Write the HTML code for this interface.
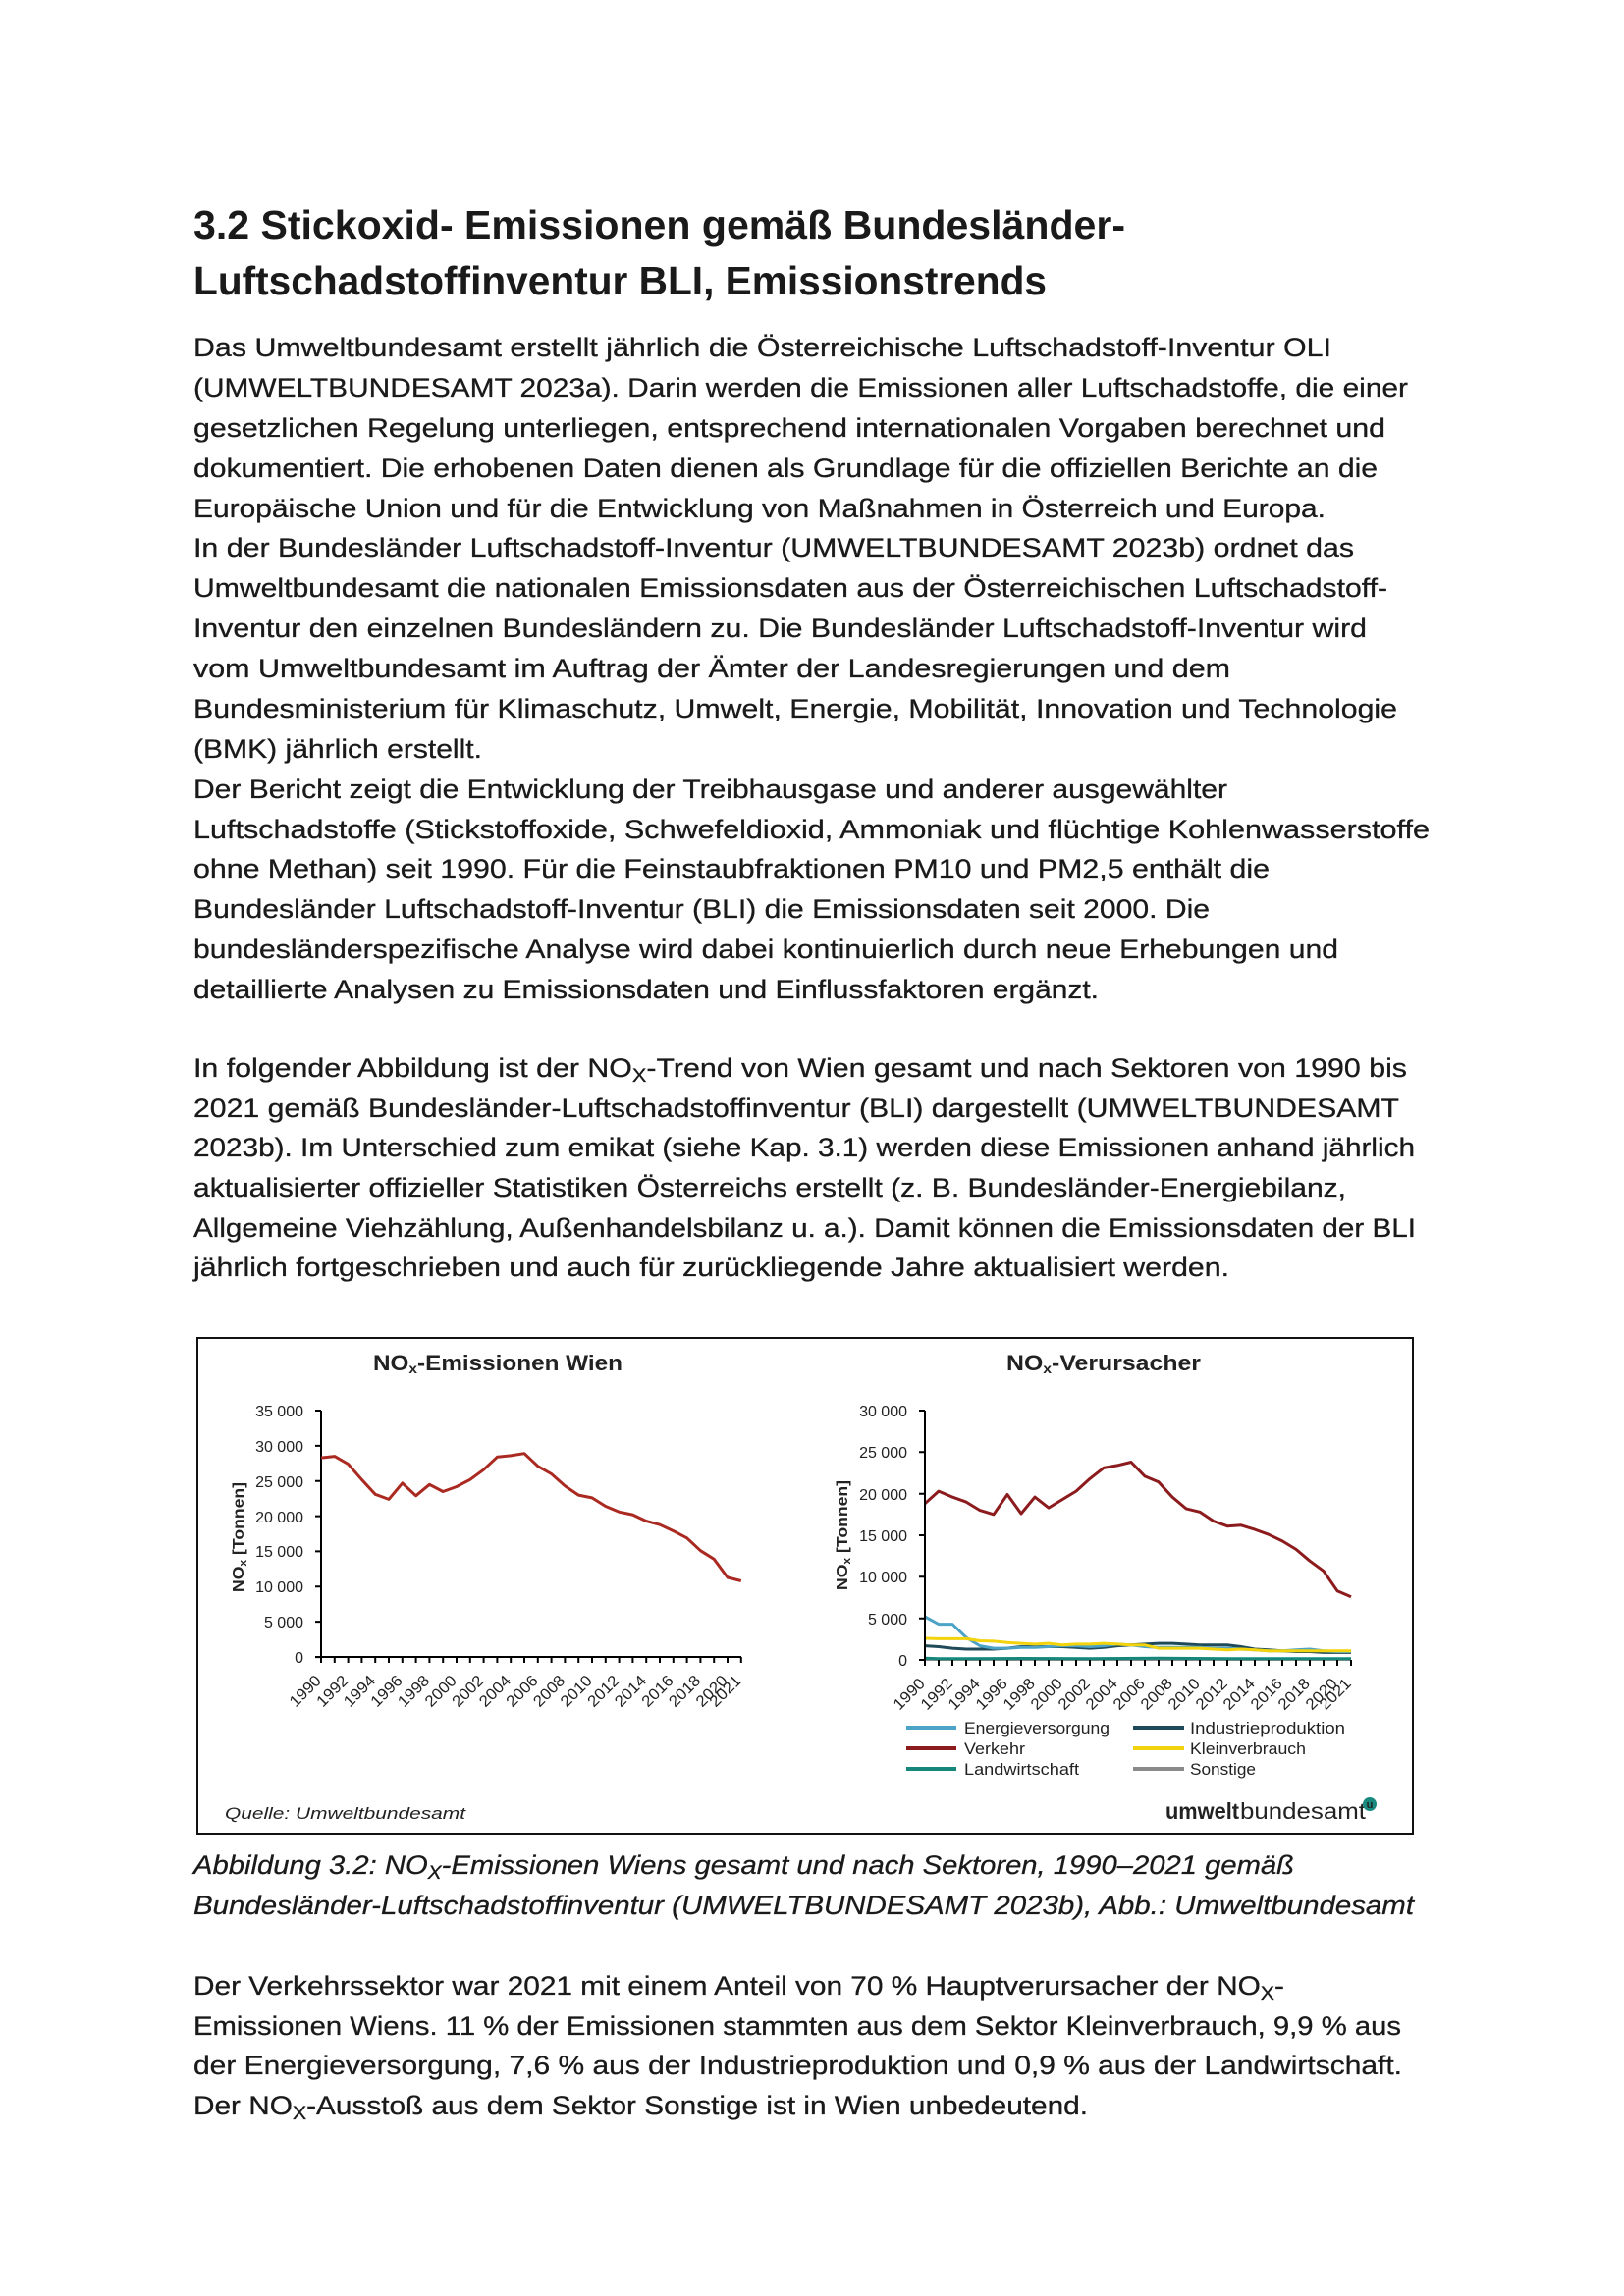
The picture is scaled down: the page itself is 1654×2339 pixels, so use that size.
<!DOCTYPE html>
<html>
<head>
<meta charset="utf-8">
<style>
html,body{margin:0;padding:0;background:#fff;}
svg{display:block;}
.b{font-family:"Liberation Sans",sans-serif;font-size:26.5px;fill:#1a1a1a;stroke:#1a1a1a;stroke-width:0.3px;}
.i{font-family:"Liberation Sans",sans-serif;font-size:26.5px;font-style:italic;fill:#1a1a1a;stroke:#1a1a1a;stroke-width:0.3px;}
.h{font-family:"Liberation Sans",sans-serif;font-size:41px;font-weight:bold;fill:#1a1a1a;}
.c{font-family:"Liberation Sans",sans-serif;fill:#222;}
</style>
</head>
<body>
<svg width="1654" height="2339" viewBox="0 0 1654 2339" xmlns="http://www.w3.org/2000/svg">
<rect width="1654" height="2339" fill="#fff"/>

<!-- Heading -->
<text class="h" x="197" y="243" textLength="949" lengthAdjust="spacingAndGlyphs">3.2 Stickoxid- Emissionen gemäß Bundesländer-</text>
<text class="h" x="197" y="300" textLength="869" lengthAdjust="spacingAndGlyphs">Luftschadstoffinventur BLI, Emissionstrends</text>

<!-- Paragraph 1 -->
<text class="b" x="197" y="363" textLength="1159" lengthAdjust="spacingAndGlyphs">Das Umweltbundesamt erstellt jährlich die Österreichische Luftschadstoff-Inventur OLI</text>
<text class="b" x="197" y="404" textLength="1237" lengthAdjust="spacingAndGlyphs">(UMWELTBUNDESAMT 2023a). Darin werden die Emissionen aller Luftschadstoffe, die einer</text>
<text class="b" x="197" y="445" textLength="1214" lengthAdjust="spacingAndGlyphs">gesetzlichen Regelung unterliegen, entsprechend internationalen Vorgaben berechnet und</text>
<text class="b" x="197" y="486" textLength="1206" lengthAdjust="spacingAndGlyphs">dokumentiert. Die erhobenen Daten dienen als Grundlage für die offiziellen Berichte an die</text>
<text class="b" x="197" y="527" textLength="1153" lengthAdjust="spacingAndGlyphs">Europäische Union und für die Entwicklung von Maßnahmen in Österreich und Europa.</text>
<text class="b" x="197" y="567" textLength="1182" lengthAdjust="spacingAndGlyphs">In der Bundesländer Luftschadstoff-Inventur (UMWELTBUNDESAMT 2023b) ordnet das</text>
<text class="b" x="197" y="608" textLength="1216" lengthAdjust="spacingAndGlyphs">Umweltbundesamt die nationalen Emissionsdaten aus der Österreichischen Luftschadstoff-</text>
<text class="b" x="197" y="649" textLength="1195" lengthAdjust="spacingAndGlyphs">Inventur den einzelnen Bundesländern zu. Die Bundesländer Luftschadstoff-Inventur wird</text>
<text class="b" x="197" y="690" textLength="1056" lengthAdjust="spacingAndGlyphs">vom Umweltbundesamt im Auftrag der Ämter der Landesregierungen und dem</text>
<text class="b" x="197" y="731" textLength="1226" lengthAdjust="spacingAndGlyphs">Bundesministerium für Klimaschutz, Umwelt, Energie, Mobilität, Innovation und Technologie</text>
<text class="b" x="197" y="772" textLength="294" lengthAdjust="spacingAndGlyphs">(BMK) jährlich erstellt.</text>
<text class="b" x="197" y="813" textLength="1053" lengthAdjust="spacingAndGlyphs">Der Bericht zeigt die Entwicklung der Treibhausgase und anderer ausgewählter</text>
<text class="b" x="197" y="854" textLength="1259" lengthAdjust="spacingAndGlyphs">Luftschadstoffe (Stickstoffoxide, Schwefeldioxid, Ammoniak und flüchtige Kohlenwasserstoffe</text>
<text class="b" x="197" y="894" textLength="1096" lengthAdjust="spacingAndGlyphs">ohne Methan) seit 1990. Für die Feinstaubfraktionen PM10 und PM2,5 enthält die</text>
<text class="b" x="197" y="935" textLength="1035" lengthAdjust="spacingAndGlyphs">Bundesländer Luftschadstoff-Inventur (BLI) die Emissionsdaten seit 2000. Die</text>
<text class="b" x="197" y="976" textLength="1166" lengthAdjust="spacingAndGlyphs">bundesländerspezifische Analyse wird dabei kontinuierlich durch neue Erhebungen und</text>
<text class="b" x="197" y="1017" textLength="922" lengthAdjust="spacingAndGlyphs">detaillierte Analysen zu Emissionsdaten und Einflussfaktoren ergänzt.</text>

<!-- Paragraph 2 -->
<text class="b" x="197" y="1097" textLength="1236" lengthAdjust="spacingAndGlyphs">In folgender Abbildung ist der NO<tspan font-size="19" dy="5">X</tspan><tspan dy="-5">-Trend von Wien gesamt und nach Sektoren von 1990 bis</tspan></text>
<text class="b" x="197" y="1138" textLength="1228" lengthAdjust="spacingAndGlyphs">2021 gemäß Bundesländer-Luftschadstoffinventur (BLI) dargestellt (UMWELTBUNDESAMT</text>
<text class="b" x="197" y="1178" textLength="1244" lengthAdjust="spacingAndGlyphs">2023b). Im Unterschied zum emikat (siehe Kap. 3.1) werden diese Emissionen anhand jährlich</text>
<text class="b" x="197" y="1219" textLength="1174" lengthAdjust="spacingAndGlyphs">aktualisierter offizieller Statistiken Österreichs erstellt (z. B. Bundesländer-Energiebilanz,</text>
<text class="b" x="197" y="1260" textLength="1245" lengthAdjust="spacingAndGlyphs">Allgemeine Viehzählung, Außenhandelsbilanz u. a.). Damit können die Emissionsdaten der BLI</text>
<text class="b" x="197" y="1300" textLength="1055" lengthAdjust="spacingAndGlyphs">jährlich fortgeschrieben und auch für zurückliegende Jahre aktualisiert werden.</text>

<!-- Chart frame -->
<rect x="201" y="1363" width="1238" height="505" fill="#fff" stroke="#111" stroke-width="2"/>

<!-- LEFT CHART -->
<text class="c" x="380" y="1396" font-size="22" font-weight="bold" fill="#111" textLength="254" lengthAdjust="spacingAndGlyphs">NO<tspan font-size="14" dy="3">x</tspan><tspan dy="-3">-Emissionen Wien</tspan></text>
<g class="c" font-size="16" text-anchor="end">
<text x="309" y="1694">0</text>
<text x="309" y="1658">5 000</text>
<text x="309" y="1622">10 000</text>
<text x="309" y="1586">15 000</text>
<text x="309" y="1551">20 000</text>
<text x="309" y="1515">25 000</text>
<text x="309" y="1479">30 000</text>
<text x="309" y="1443">35 000</text>
</g>
<text class="c" transform="translate(248,1566) rotate(-90)" text-anchor="middle" font-size="16" font-weight="bold" fill="#111" textLength="112" lengthAdjust="spacingAndGlyphs">NO<tspan font-size="11" dy="3">x</tspan><tspan dy="-3"> [Tonnen]</tspan></text>
<g stroke="#000" stroke-width="2" fill="none">
<line x1="327" y1="1437" x2="327" y2="1689"/>
<line x1="321" y1="1688" x2="755" y2="1688"/>
<path d="M321 1688.1H327M321 1652.1H327M321 1616.3H327M321 1580.4H327M321 1544.6H327M321 1508.7H327M321 1472.9H327M321 1437H327"/>
<path d="M327 1688v6M340.8 1688v6M354.6 1688v6M368.4 1688v6M382.2 1688v6M396 1688v6M409.8 1688v6M423.6 1688v6M437.4 1688v6M451.2 1688v6M465 1688v6M478.8 1688v6M492.6 1688v6M506.4 1688v6M520.2 1688v6M534 1688v6M547.8 1688v6M561.6 1688v6M575.4 1688v6M589.2 1688v6M603 1688v6M616.8 1688v6M630.6 1688v6M644.4 1688v6M658.2 1688v6M672 1688v6M685.8 1688v6M699.6 1688v6M713.4 1688v6M727.2 1688v6M741 1688v6M754.8 1688v6"/>
</g>
<g class="c" font-size="16" text-anchor="end">
<text transform="translate(328,1713) rotate(-45)" textLength="38" lengthAdjust="spacingAndGlyphs">1990</text>
<text transform="translate(355.6,1713) rotate(-45)" textLength="38" lengthAdjust="spacingAndGlyphs">1992</text>
<text transform="translate(383.2,1713) rotate(-45)" textLength="38" lengthAdjust="spacingAndGlyphs">1994</text>
<text transform="translate(410.8,1713) rotate(-45)" textLength="38" lengthAdjust="spacingAndGlyphs">1996</text>
<text transform="translate(438.4,1713) rotate(-45)" textLength="38" lengthAdjust="spacingAndGlyphs">1998</text>
<text transform="translate(466,1713) rotate(-45)" textLength="38" lengthAdjust="spacingAndGlyphs">2000</text>
<text transform="translate(493.6,1713) rotate(-45)" textLength="38" lengthAdjust="spacingAndGlyphs">2002</text>
<text transform="translate(521.2,1713) rotate(-45)" textLength="38" lengthAdjust="spacingAndGlyphs">2004</text>
<text transform="translate(548.8,1713) rotate(-45)" textLength="38" lengthAdjust="spacingAndGlyphs">2006</text>
<text transform="translate(576.4,1713) rotate(-45)" textLength="38" lengthAdjust="spacingAndGlyphs">2008</text>
<text transform="translate(604,1713) rotate(-45)" textLength="38" lengthAdjust="spacingAndGlyphs">2010</text>
<text transform="translate(631.6,1713) rotate(-45)" textLength="38" lengthAdjust="spacingAndGlyphs">2012</text>
<text transform="translate(659.2,1713) rotate(-45)" textLength="38" lengthAdjust="spacingAndGlyphs">2014</text>
<text transform="translate(686.8,1713) rotate(-45)" textLength="38" lengthAdjust="spacingAndGlyphs">2016</text>
<text transform="translate(714.4,1713) rotate(-45)" textLength="38" lengthAdjust="spacingAndGlyphs">2018</text>
<text transform="translate(742,1713) rotate(-45)" textLength="38" lengthAdjust="spacingAndGlyphs">2020</text>
<text transform="translate(755.8,1713) rotate(-45)" textLength="38" lengthAdjust="spacingAndGlyphs">2021</text>
</g>
<polyline fill="none" stroke="#aa2a22" stroke-width="3" stroke-linejoin="round" points="327,1485.1 340.8,1483.6 354.6,1491.5 368.4,1507.3 382.2,1522.3 396,1527.4 409.8,1510.9 423.6,1523.8 437.4,1512.3 451.2,1519.5 465,1514.5 478.8,1507.3 492.6,1497.2 506.4,1484.3 520.2,1482.9 534,1480.7 547.8,1493.7 561.6,1501.5 575.4,1513.7 589.2,1523.1 603,1525.9 616.8,1534.5 630.6,1540.3 644.4,1543.1 658.2,1549.6 672,1553.2 685.8,1559.6 699.6,1566.8 713.4,1579.7 727.2,1588.3 741,1607 754.8,1610.5"/>
<text class="c" x="229" y="1853" font-size="17" font-style="italic" fill="#222" textLength="245" lengthAdjust="spacingAndGlyphs">Quelle: Umweltbundesamt</text>

<!-- RIGHT CHART -->
<text class="c" x="1025" y="1396" font-size="22" font-weight="bold" fill="#111" textLength="198" lengthAdjust="spacingAndGlyphs">NO<tspan font-size="14" dy="3">x</tspan><tspan dy="-3">-Verursacher</tspan></text>
<g class="c" font-size="16" text-anchor="end">
<text x="924" y="1697">0</text>
<text x="924" y="1655">5 000</text>
<text x="924" y="1612">10 000</text>
<text x="924" y="1570">15 000</text>
<text x="924" y="1528">20 000</text>
<text x="924" y="1485">25 000</text>
<text x="924" y="1443">30 000</text>
</g>
<text class="c" transform="translate(863,1564) rotate(-90)" text-anchor="middle" font-size="16" font-weight="bold" fill="#111" textLength="112" lengthAdjust="spacingAndGlyphs">NO<tspan font-size="11" dy="3">x</tspan><tspan dy="-3"> [Tonnen]</tspan></text>
<g fill="none" stroke-width="3" stroke-linejoin="round">
<polyline stroke="#8a8a8a" points="942,1690.5 1376,1690.5"/>
<polyline stroke="#14877a" points="942,1689.3 956,1689.7 984,1689.7 1040,1689.5 1110,1689.7 1180,1689.3 1250,1689.7 1320,1689.7 1376,1689.7"/>
<polyline stroke="#1f4a5a" points="942,1676.6 956,1677.5 970,1679.1 984,1680 998,1680 1012,1680 1026,1679.1 1040,1677.5 1054,1677.5 1068,1677.5 1082,1677.5 1096,1678.3 1110,1679.1 1124,1678.3 1138,1676.6 1152,1675.8 1166,1674.9 1180,1674.1 1194,1674.1 1208,1674.9 1222,1675.8 1236,1675.8 1250,1675.8 1264,1677.5 1278,1680 1292,1680.8 1306,1681.7 1320,1682.5 1334,1682.5 1348,1683.4 1362,1683.4 1376,1683.4"/>
<polyline stroke="#4da3c6" points="942,1647 956,1654.6 970,1654.6 984,1668.1 998,1676.6 1012,1679.1 1026,1679.1 1040,1678.3 1054,1678.3 1068,1677.5 1082,1676.6 1096,1676.6 1110,1677.5 1124,1676.6 1138,1674.9 1152,1675.8 1166,1677.5 1180,1678.3 1194,1678.3 1208,1678.3 1222,1678.3 1236,1679.1 1250,1679.1 1264,1680 1278,1680.8 1292,1681.7 1306,1681.7 1320,1680.8 1334,1680 1348,1681.7 1362,1682.5 1376,1682.5"/>
<polyline stroke="#f2d30c" points="942,1669 956,1669.4 970,1669.4 984,1669.4 998,1671.5 1012,1671.9 1026,1673.2 1040,1674.1 1054,1674.9 1068,1674.1 1082,1675.8 1096,1674.9 1110,1674.9 1124,1674.1 1138,1674.9 1152,1675.8 1166,1675.8 1180,1679.1 1194,1679.1 1208,1679.1 1222,1679.1 1236,1680 1250,1680.8 1264,1680 1278,1680.8 1292,1681.7 1306,1681.7 1320,1681.7 1334,1681.7 1348,1681.7 1362,1681.7 1376,1681.7"/>
<polyline stroke="#8c1b1e" points="942,1531.8 956,1519.1 970,1525.1 984,1530.1 998,1538.6 1012,1542.8 1026,1522.5 1040,1542 1054,1525.1 1068,1536.1 1082,1527.6 1096,1519.1 1110,1506.4 1124,1495.4 1138,1492.9 1152,1489.5 1166,1503.9 1180,1509.8 1194,1525.1 1208,1536.9 1222,1540.3 1236,1549.6 1250,1554.7 1264,1553.8 1278,1558.1 1292,1563.2 1306,1569.9 1320,1578.4 1334,1590.2 1348,1600.4 1362,1620.7 1376,1626.7"/>
</g>
<g stroke="#000" stroke-width="2" fill="none">
<line x1="942" y1="1437" x2="942" y2="1692"/>
<path d="M936 1691H942M936 1648.7H942M936 1606.3H942M936 1564H942M936 1521.7H942M936 1479.3H942M936 1437H942"/>
<path d="M942 1691v6M956 1691v6M970 1691v6M984 1691v6M998 1691v6M1012 1691v6M1026 1691v6M1040 1691v6M1054 1691v6M1068 1691v6M1082 1691v6M1096 1691v6M1110 1691v6M1124 1691v6M1138 1691v6M1152 1691v6M1166 1691v6M1180 1691v6M1194 1691v6M1208 1691v6M1222 1691v6M1236 1691v6M1250 1691v6M1264 1691v6M1278 1691v6M1292 1691v6M1306 1691v6M1320 1691v6M1334 1691v6M1348 1691v6M1362 1691v6M1376 1691v6"/>
</g>
<g class="c" font-size="16" text-anchor="end">
<text transform="translate(943,1716) rotate(-45)" textLength="38" lengthAdjust="spacingAndGlyphs">1990</text>
<text transform="translate(971,1716) rotate(-45)" textLength="38" lengthAdjust="spacingAndGlyphs">1992</text>
<text transform="translate(999,1716) rotate(-45)" textLength="38" lengthAdjust="spacingAndGlyphs">1994</text>
<text transform="translate(1027,1716) rotate(-45)" textLength="38" lengthAdjust="spacingAndGlyphs">1996</text>
<text transform="translate(1055,1716) rotate(-45)" textLength="38" lengthAdjust="spacingAndGlyphs">1998</text>
<text transform="translate(1083,1716) rotate(-45)" textLength="38" lengthAdjust="spacingAndGlyphs">2000</text>
<text transform="translate(1111,1716) rotate(-45)" textLength="38" lengthAdjust="spacingAndGlyphs">2002</text>
<text transform="translate(1139,1716) rotate(-45)" textLength="38" lengthAdjust="spacingAndGlyphs">2004</text>
<text transform="translate(1167,1716) rotate(-45)" textLength="38" lengthAdjust="spacingAndGlyphs">2006</text>
<text transform="translate(1195,1716) rotate(-45)" textLength="38" lengthAdjust="spacingAndGlyphs">2008</text>
<text transform="translate(1223,1716) rotate(-45)" textLength="38" lengthAdjust="spacingAndGlyphs">2010</text>
<text transform="translate(1251,1716) rotate(-45)" textLength="38" lengthAdjust="spacingAndGlyphs">2012</text>
<text transform="translate(1279,1716) rotate(-45)" textLength="38" lengthAdjust="spacingAndGlyphs">2014</text>
<text transform="translate(1307,1716) rotate(-45)" textLength="38" lengthAdjust="spacingAndGlyphs">2016</text>
<text transform="translate(1335,1716) rotate(-45)" textLength="38" lengthAdjust="spacingAndGlyphs">2018</text>
<text transform="translate(1363,1716) rotate(-45)" textLength="38" lengthAdjust="spacingAndGlyphs">2020</text>
<text transform="translate(1377,1716) rotate(-45)" textLength="38" lengthAdjust="spacingAndGlyphs">2021</text>
</g>
<g stroke-width="4">
<line x1="923" y1="1760" x2="974" y2="1760" stroke="#4da3c6"/>
<line x1="923" y1="1781" x2="974" y2="1781" stroke="#8c1b1e"/>
<line x1="923" y1="1802" x2="974" y2="1802" stroke="#14877a"/>
<line x1="1154" y1="1760" x2="1206" y2="1760" stroke="#1f4a5a"/>
<line x1="1154" y1="1781" x2="1206" y2="1781" stroke="#f2d30c"/>
<line x1="1154" y1="1802" x2="1206" y2="1802" stroke="#8a8a8a"/>
</g>
<g class="c" font-size="17" fill="#2a2233">
<text x="982" y="1766" textLength="148" lengthAdjust="spacingAndGlyphs">Energieversorgung</text>
<text x="982" y="1787" textLength="62" lengthAdjust="spacingAndGlyphs">Verkehr</text>
<text x="982" y="1808" textLength="117" lengthAdjust="spacingAndGlyphs">Landwirtschaft</text>
<text x="1212" y="1766" textLength="158" lengthAdjust="spacingAndGlyphs">Industrieproduktion</text>
<text x="1212" y="1787" textLength="118" lengthAdjust="spacingAndGlyphs">Kleinverbrauch</text>
<text x="1212" y="1808" textLength="67" lengthAdjust="spacingAndGlyphs">Sonstige</text>
</g>
<text class="c" x="1187" y="1853" font-size="23" font-weight="bold" fill="#1b7f74" textLength="75" lengthAdjust="spacingAndGlyphs">umwelt</text>
<text class="c" x="1263" y="1853" font-size="23" fill="#5f6f6d" textLength="128" lengthAdjust="spacingAndGlyphs">bundesamt</text>
<circle cx="1395" cy="1838" r="7" fill="#1b8a7e"/>
<text class="c" x="1395" y="1842" font-size="11" font-weight="bold" fill="#fff" text-anchor="middle">u</text>

<!-- Caption -->
<text class="i" x="197" y="1909" textLength="1121" lengthAdjust="spacingAndGlyphs">Abbildung 3.2: NO<tspan font-size="19" dy="5">X</tspan><tspan dy="-5">-Emissionen Wiens gesamt und nach Sektoren, 1990–2021 gemäß</tspan></text>
<text class="i" x="197" y="1950" textLength="1243" lengthAdjust="spacingAndGlyphs">Bundesländer-Luftschadstoffinventur (UMWELTBUNDESAMT 2023b), Abb.: Umweltbundesamt</text>

<!-- Paragraph 3 -->
<text class="b" x="197" y="2032" textLength="1111" lengthAdjust="spacingAndGlyphs">Der Verkehrssektor war 2021 mit einem Anteil von 70 % Hauptverursacher der NO<tspan font-size="19" dy="5">X</tspan><tspan dy="-5">-</tspan></text>
<text class="b" x="197" y="2073" textLength="1230" lengthAdjust="spacingAndGlyphs">Emissionen Wiens. 11 % der Emissionen stammten aus dem Sektor Kleinverbrauch, 9,9 % aus</text>
<text class="b" x="197" y="2113" textLength="1231" lengthAdjust="spacingAndGlyphs">der Energieversorgung, 7,6 % aus der Industrieproduktion und 0,9 % aus der Landwirtschaft.</text>
<text class="b" x="197" y="2154" textLength="911" lengthAdjust="spacingAndGlyphs">Der NO<tspan font-size="19" dy="5">X</tspan><tspan dy="-5">-Ausstoß aus dem Sektor Sonstige ist in Wien unbedeutend.</tspan></text>
</svg>
</body>
</html>
